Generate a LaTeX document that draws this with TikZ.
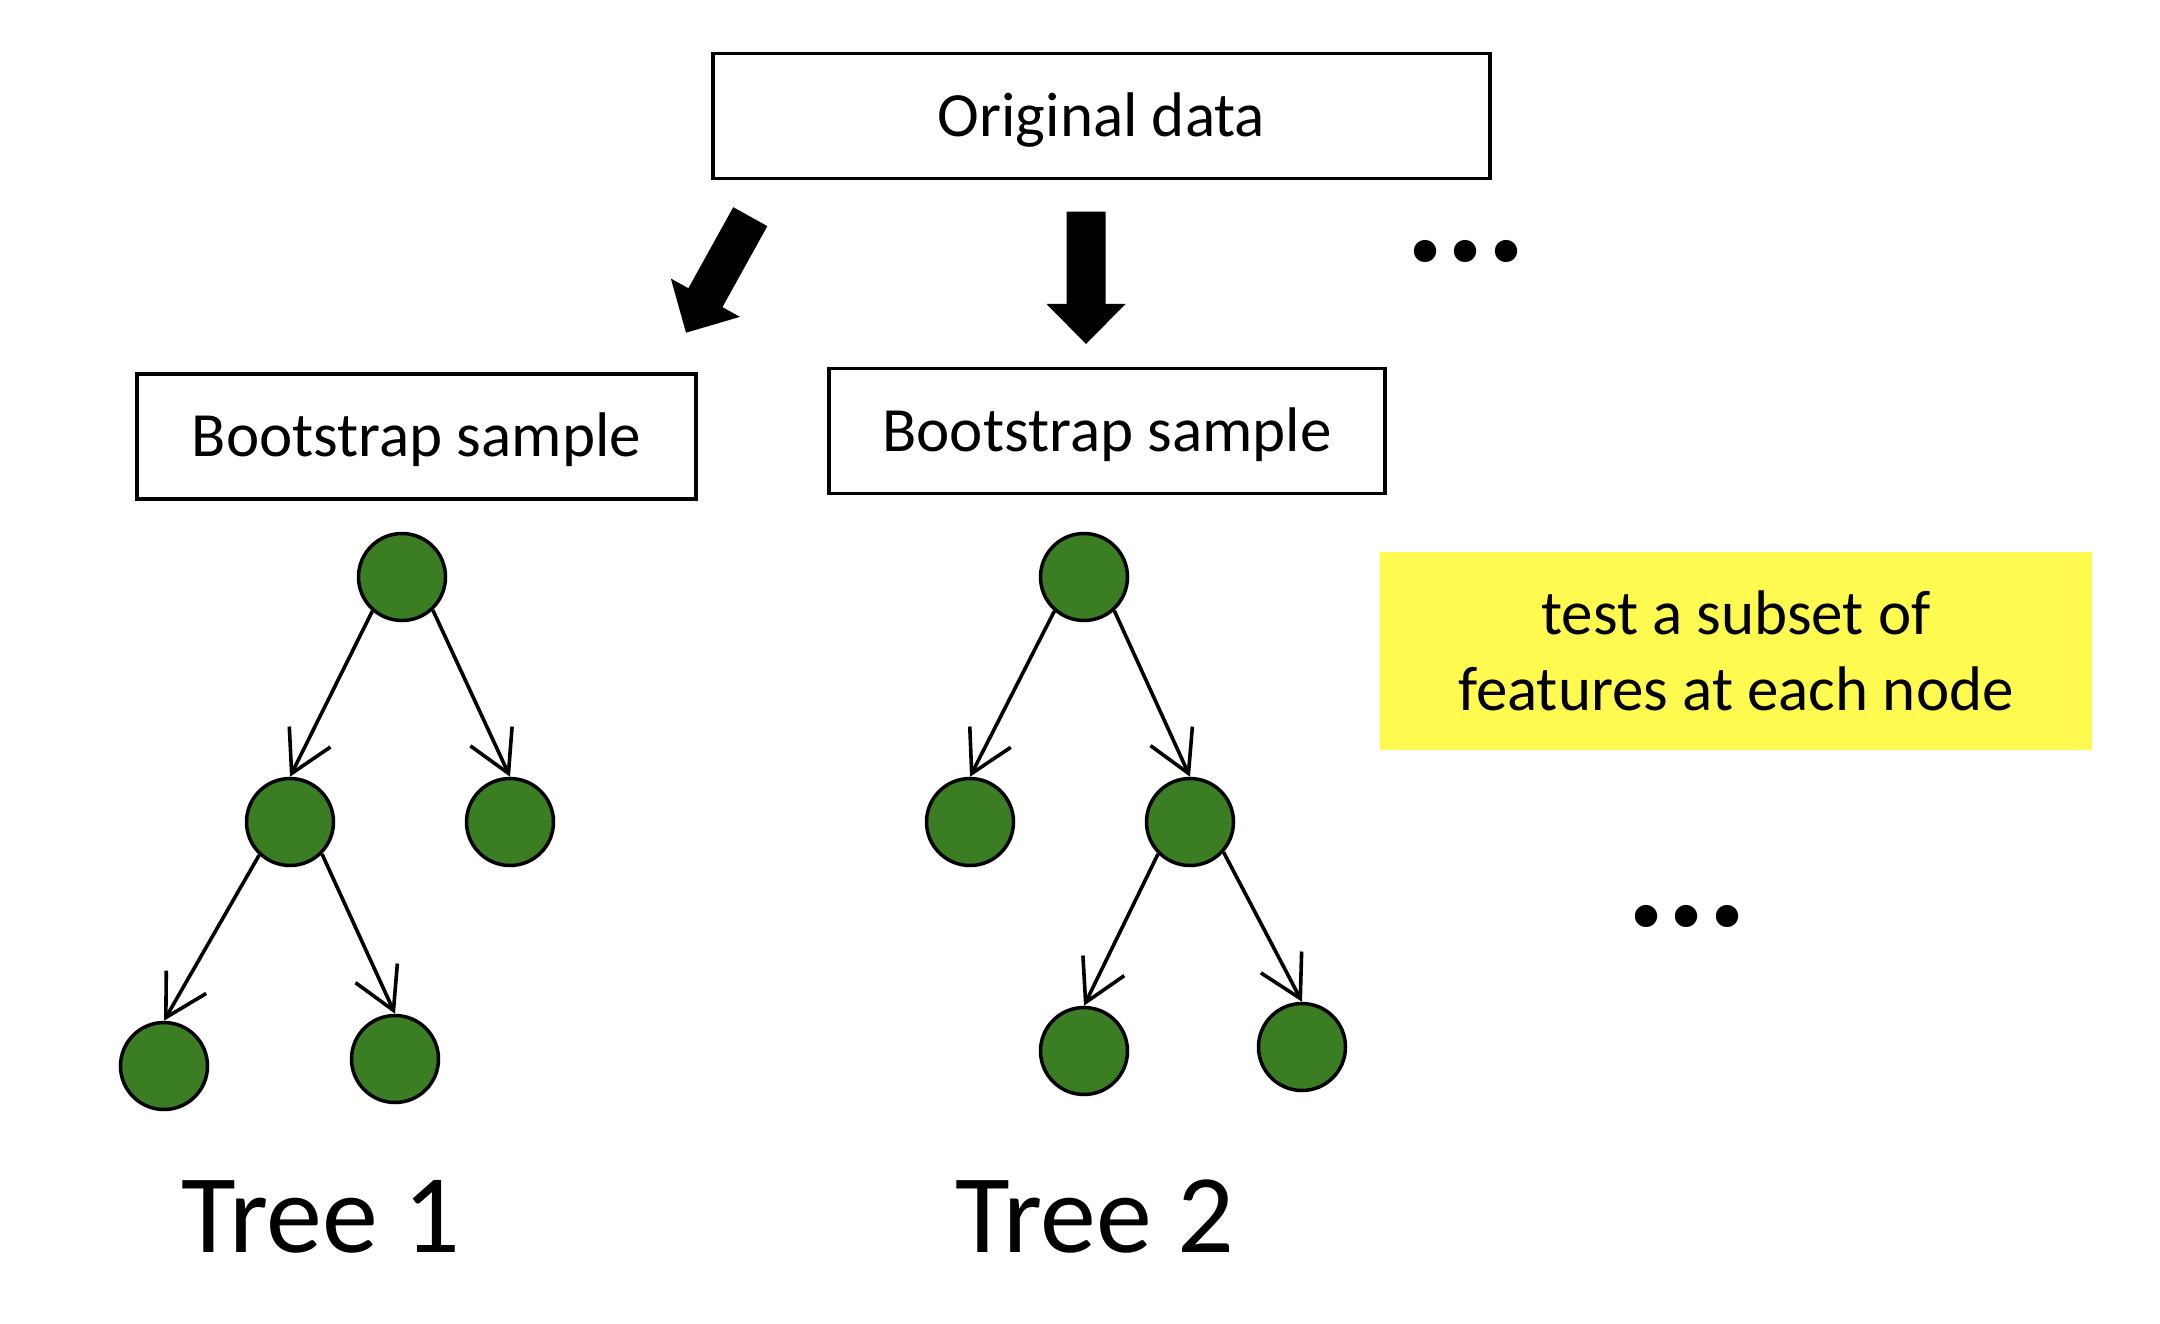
\documentclass[tikz,border=0pt]{standalone}
\usepackage{fontspec}
\setmainfont{Carlito}
\usetikzlibrary{arrows.meta}
\definecolor{leafgreen}{RGB}{58,125,34}
\definecolor{noteyellow}{RGB}{255,250,80}
\begin{document}
\begin{tikzpicture}[x=1pt,y=-1pt,
  databox/.style={draw=black, line width=3.5pt, fill=white, inner sep=0pt,
    minimum height=125pt, text height=40.6pt, text depth=0pt,
    font=\fontsize{63}{76}\selectfont},
  treenode/.style={circle, draw=black, line width=3.5pt, fill=leafgreen,
    minimum size=87pt, inner sep=0pt},
  treeedge/.style={draw=black, line width=3.6pt,
    -{Straight Barb[length=41pt,width=46pt]}},
  blockarrow/.style={fill=black},
  dotstext/.style={inner sep=0pt, anchor=base, font=\fontsize{150}{150}\selectfont\bfseries},
  treelabel/.style={inner sep=0pt, anchor=base, font=\fontsize{112}{120}\selectfont}
]
\useasboundingbox[fill=white] (0,0) rectangle (2160,1324);

% boxes
\node[databox, minimum width=777pt] (orig) at (1101.5,116) {Original data};
\node[databox, minimum width=559pt] (bs1) at (416.5,436.5) {Bootstrap sample};
\node[databox, minimum width=556pt] (bs2) at (1107,431) {Bootstrap sample};

% block arrows
\coordinate (la) at (750.3,216.65);
\coordinate (lb) at (686,332.7);
\coordinate (ma) at (1086,211.7);
\coordinate (mb) at (1086,344);
\fill[blockarrow] (733.25,207.2) -- (767.35,226.1) -- (722.45,307.15) -- (739.95,316.85)
   -- (lb) -- (670.85,278.55) -- (688.35,288.25) -- cycle;
\fill[blockarrow] (1066.5,211.7) -- (1105.5,211.7) -- (1105.5,304) -- (1125.5,304)
   -- (mb) -- (1046.5,304) -- (1066.5,304) -- cycle;

% ellipses
\node[dotstext] (dots1) at (1466,262) {...};
\node[dotstext] (dots2) at (1687,926) {...};

% note
\node[fill=noteyellow, minimum width=712pt, minimum height=198pt, inner sep=0pt,
      align=center, font=\fontsize{63}{75.7}\selectfont] (note) at (1736,651)
      {test a subset of\\features at each node};

% tree 1
\node[treenode] (r1) at (402,577) {};
\node[treenode] (c1l) at (290,822) {};
\node[treenode] (c1r) at (510,822) {};
\node[treenode] (g1l) at (164,1066) {};
\node[treenode] (g1r) at (395,1059) {};
\draw[treeedge] (r1.229) -- (c1l.north);
\draw[treeedge] (r1.313) -- (c1r.north);
\draw[treeedge] (c1l.227) -- (g1l.north);
\draw[treeedge] (c1l.315) -- (g1r.north);

% tree 2
\node[treenode] (r2) at (1084,577) {};
\node[treenode] (c2l) at (970,822) {};
\node[treenode] (c2r) at (1190,822) {};
\node[treenode] (g2l) at (1084,1051) {};
\node[treenode] (g2r) at (1302,1047) {};
\draw[treeedge] (r2.229) -- (c2l.north);
\draw[treeedge] (r2.312) -- (c2r.north);
\draw[treeedge] (c2r.225) -- (g2l.north);
\draw[treeedge] (c2r.318) -- (g2r.north);

% labels
\node[treelabel] (lab1) at (321,1252) {Tree 1};
\node[treelabel] (lab2) at (1095,1252) {Tree 2};
\end{tikzpicture}
\end{document}
